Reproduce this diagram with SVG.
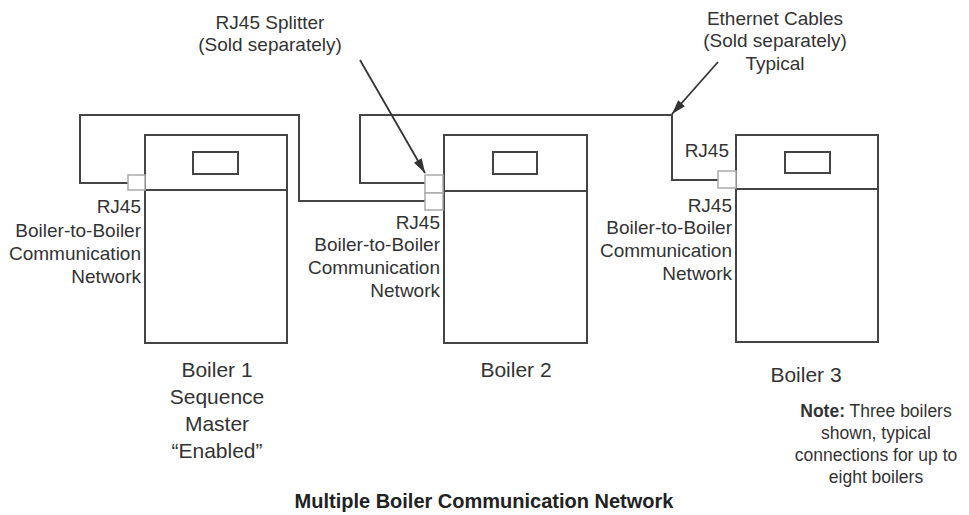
<svg xmlns="http://www.w3.org/2000/svg" width="969" height="515" viewBox="0 0 969 515">
<style>
.box{fill:none;stroke:#444;stroke-width:2}
.port{fill:#fff;stroke:#aaa;stroke-width:1.5}
.cable{fill:none;stroke:#444;stroke-width:2}
.lead{fill:none;stroke:#333;stroke-width:1.8}
text{font-family:"Liberation Sans",Arial,sans-serif;fill:#333;font-size:19px}
.r{text-anchor:end}
.c{text-anchor:middle}
.big{font-size:21px}
.note{font-size:17.5px}
.title{font-size:20px;font-weight:bold;fill:#222}
</style>
<defs>
<marker id="ah2" viewBox="0 0 16 10" refX="16" refY="5" markerWidth="15" markerHeight="9" markerUnits="userSpaceOnUse" orient="auto">
<path d="M0,0 L16,5 L0,10 Z" fill="#333"/>
</marker>
</defs>
<g id="connectors">
<path class="cable" d="M128,183 H80 V115 H299 V201 H425"/>
<path class="cable" d="M425,183 H360 V115 H672 V180 H718"/>
<line class="lead" x1="360" y1="60" x2="425" y2="173" marker-end="url(#ah2)"/>
<line class="lead" x1="718" y1="62" x2="672" y2="114" marker-end="url(#ah2)"/>
</g>
<g id="boiler1">
<rect class="box" x="145" y="135" width="142" height="208"/>
<line class="box" x1="145" y1="190" x2="287" y2="190"/>
<rect class="box" x="193" y="152" width="45" height="22"/>
<rect class="port" x="128" y="175" width="17" height="15"/>
<text class="r" x="141" y="213">RJ45</text>
<text class="r" x="141" y="237">Boiler-to-Boiler</text>
<text class="r" x="141" y="260">Communication</text>
<text class="r" x="141" y="283">Network</text>
<text class="c big" x="217" y="377">Boiler 1</text>
<text class="c big" x="217" y="404">Sequence</text>
<text class="c big" x="217" y="431">Master</text>
<text class="c big" x="217" y="458">“Enabled”</text>
</g>
<g id="boiler2">
<rect class="box" x="444" y="135" width="143" height="208"/>
<line class="box" x1="444" y1="191" x2="587" y2="191"/>
<rect class="box" x="493" y="152" width="44" height="22"/>
<rect class="port" x="425" y="175" width="18" height="18"/>
<rect class="port" x="425" y="193" width="18" height="17"/>
<text class="r" x="440" y="229">RJ45</text>
<text class="r" x="440" y="251">Boiler-to-Boiler</text>
<text class="r" x="440" y="274">Communication</text>
<text class="r" x="440" y="297">Network</text>
<text class="c big" x="516" y="377">Boiler 2</text>
</g>
<g id="boiler3">
<rect class="box" x="736" y="135" width="142" height="207"/>
<line class="box" x1="736" y1="189" x2="878" y2="189"/>
<rect class="box" x="785" y="152" width="45" height="21"/>
<rect class="port" x="718" y="171" width="18" height="17"/>
<text class="r" x="729" y="157">RJ45</text>
<text class="r" x="732" y="212">RJ45</text>
<text class="r" x="732" y="234">Boiler-to-Boiler</text>
<text class="r" x="732" y="257">Communication</text>
<text class="r" x="732" y="280">Network</text>
<text class="c big" x="806" y="382">Boiler 3</text>
</g>
<g id="splitter-label">
<text class="c" x="270" y="29">RJ45 Splitter</text>
<text class="c" x="270" y="51">(Sold separately)</text>
</g>
<g id="ethernet-label">
<text class="c" x="775" y="25">Ethernet Cables</text>
<text class="c" x="775" y="47">(Sold separately)</text>
<text class="c" x="775" y="70">Typical</text>
</g>
<g id="note">
<text class="c note" x="876" y="417"><tspan font-weight="bold">Note:</tspan> Three boilers</text>
<text class="c note" x="876" y="439">shown, typical</text>
<text class="c note" x="876" y="461">connections for up to</text>
<text class="c note" x="876" y="483">eight boilers</text>
</g>
<text class="c title" x="484" y="508">Multiple Boiler Communication Network</text>
</svg>
